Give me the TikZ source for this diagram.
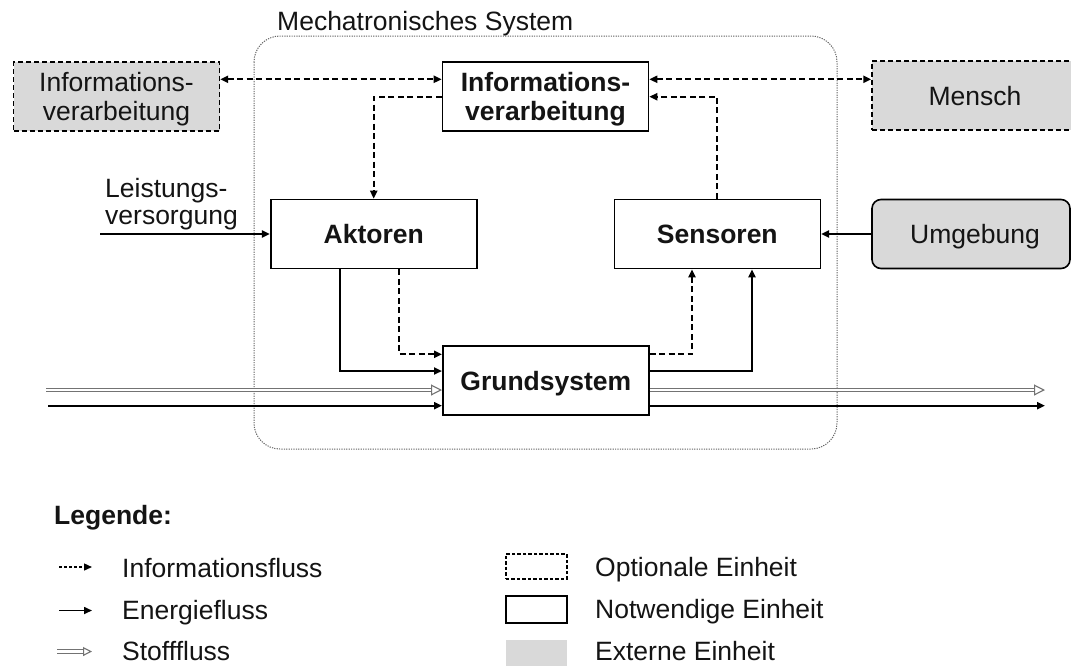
\documentclass[tikz,border=0pt]{standalone}
\usepackage{fontspec}
\setmainfont{Liberation Sans}
\usetikzlibrary{arrows.meta}

\definecolor{extgray}{RGB}{217,217,217}
\definecolor{ink}{RGB}{20,20,20}
\definecolor{frame}{RGB}{100,100,100}
\definecolor{stoffgray}{RGB}{115,115,115}

\tikzset{
  txt/.style={font=\fontsize{26.5pt}{29pt}\selectfont, text=ink, inner sep=0pt},
  unit/.style={txt, draw=black, line width=1.6pt, minimum width=206pt, minimum height=69pt,
               align=center, text depth=0pt},
  needed/.style={unit, fill=white},
  optional/.style={unit, dash pattern=on 5pt off 3pt, line width=1.4pt},
  external/.style={fill=extgray},
  boldtxt/.style={font=\fontsize{26.5pt}{29pt}\selectfont\bfseries},
  tip/.style={-{Triangle[length=8pt,width=7pt]}},
  tips/.style={{Triangle[length=8pt,width=7pt]}-{Triangle[length=8pt,width=7pt]}},
  energy/.style={draw=black, line width=2pt},
  infoflow/.style={draw=black, line width=2pt, dash pattern=on 6pt off 3.5pt},
  stoff/.style={draw=stoffgray, double=white, double distance=2.6pt, line width=1.1pt,
                -{Triangle[open, length=11pt, width=11pt, line width=1.1pt, fill=white]}},
  container/.style={draw=frame, line width=1pt, dash pattern=on 1.2pt off 1.2pt,
                    rounded corners=26pt},
}

\begin{document}
\begin{tikzpicture}[x=1pt, y=-1pt]
  \clip (0,0) rectangle (1071,665);
  \fill[white] (0,0) rectangle (1071,665);

  % system boundary
  \draw[container] (254,36) rectangle (837,449);
  \node[txt, anchor=base west] (title) at (277,30) {Mechatronisches System};

  % units
  \node[optional, external] (ext) at (116.5,96.3) {Informations-\\verarbeitung};
  \node[needed, boldtxt] (info) at (545.5,96.7) {Informations-\\verarbeitung};
  \node[optional, external, minimum width=212pt] (mensch) at (978,95.5) {\hspace*{-6pt}Mensch};
  \node[needed, boldtxt] (akt) at (373.7,234) {Aktoren};
  \node[needed, boldtxt] (sen) at (717.3,234) {Sensoren};
  \node[unit, external, rounded corners=9pt, minimum width=198pt] (umg) at (971,234) {\hspace*{8pt}Umgebung};
  \node[needed, boldtxt] (grund) at (545.8,380.7) {Grundsystem};

  \node[txt, anchor=north west, align=left,
        font=\fontsize{26.5pt}{27pt}\selectfont] (lv) at (105,178) {Leistungs-\\versorgung};

  % helper points
  \coordinate (yA) at (0,79.3);
  \coordinate (lvin) at (100,234);
  \coordinate (cA) at (340,371);
  \coordinate (cB) at (399.3,354.3);
  \coordinate (cC) at (692,354.3);
  \coordinate (cD) at (752,371);
  \coordinate (sIn) at (46,390);
  \coordinate (sOut) at (1045,390);
  \coordinate (eIn) at (48,405.7);
  \coordinate (eOut) at (1045,405.7);

  % information flows
  \draw[infoflow, tips] (ext.east |- yA) -- (info.west |- yA);
  \draw[infoflow, tips] (info.east |- yA) -- (mensch.west |- yA);
  \draw[infoflow, tip] (info.west) -| (akt.north);
  \draw[infoflow, tip] (sen.north) |- (info.east);
  \draw[infoflow, tip] (akt.south -| cB) -- (cB) -- (grund.west |- cB);
  \draw[infoflow, tip] (grund.east |- cC) -- (cC) -- (sen.south -| cC);

  % energy flows
  \draw[energy, tip] (lvin) -- (akt.west);
  \draw[energy, tip] (umg.west) -- (sen.east);
  \draw[energy, tip] (akt.south -| cA) -- (cA) -- (grund.west |- cA);
  \draw[energy, tip] (grund.east |- cD) -- (cD) -- (sen.south -| cD);
  \draw[energy, tip] (eIn) -- (grund.west |- eIn);
  \draw[energy, tip] (grund.east |- eOut) -- (eOut);

  % material flows
  \draw[stoff] (sIn) -- (grund.west |- sIn);
  \draw[stoff] (grund.east |- sOut) -- (sOut);

  % legend
  \node[txt, boldtxt, anchor=base west] (leg) at (54,524) {Legende:};

  \coordinate (l1a) at (59,567);   \coordinate (l1b) at (92,567);
  \coordinate (l2a) at (59,610.5); \coordinate (l2b) at (92,610.5);
  \coordinate (l3a) at (57,651.5); \coordinate (l3b) at (92,651.5);
  \draw[infoflow, line width=1.4pt, dash pattern=on 3pt off 2pt, tip] (l1a) -- (l1b);
  \draw[energy, line width=1.6pt, tip] (l2a) -- (l2b);
  \draw[stoff, double distance=2.2pt, -{Triangle[open, length=9pt, width=9pt, line width=1.1pt, fill=white]}] (l3a) -- (l3b);
  \node[txt, anchor=base west] (lt1) at (122,577) {Informationsfluss};
  \node[txt, anchor=base west] (lt2) at (122,619) {Energiefluss};
  \node[txt, anchor=base west] (lt3) at (122,660) {Stofffluss};

  \node[draw=black, line width=1.3pt, dash pattern=on 3.5pt off 2pt,
        minimum width=61pt, minimum height=25pt, inner sep=0pt] (lb1) at (536.4,566.5) {};
  \node[draw=black, line width=1.5pt,
        minimum width=61pt, minimum height=27pt, inner sep=0pt] (lb2) at (536.5,609.5) {};
  \node[fill=extgray, minimum width=61pt, minimum height=28pt, inner sep=0pt] (lb3) at (536.5,654) {};
  \node[txt, anchor=base west] (rt1) at (595,576) {Optionale Einheit};
  \node[txt, anchor=base west] (rt2) at (595,618) {Notwendige Einheit};
  \node[txt, anchor=base west] (rt3) at (595,660) {Externe Einheit};
\end{tikzpicture}
\end{document}
